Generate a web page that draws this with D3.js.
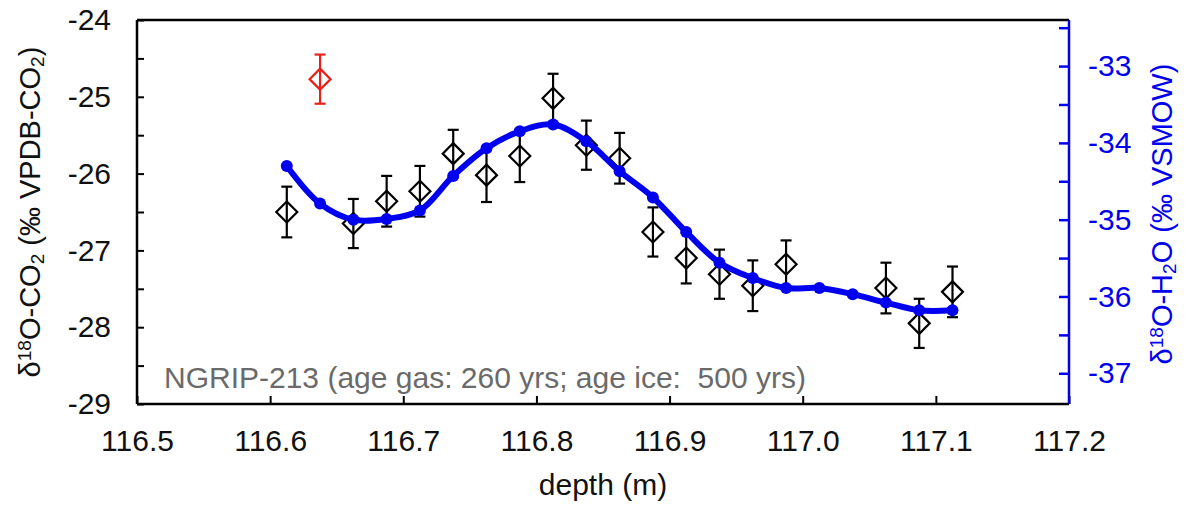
<!DOCTYPE html>
<html>
<head>
<meta charset="utf-8">
<script src="https://cdn.jsdelivr.net/npm/d3@7.9.0/dist/d3.min.js"></script>
<style>
  body { margin: 0; background: #fff; }
  svg { display: block; font-family: Arial, "Liberation Sans", sans-serif; }
</style>
</head>
<body>
<svg id="chart" width="1190" height="506"></svg>
<script>
// d18O of CO2 (black diamonds, left axis)
const co2Depth = [116.6125, 116.6625, 116.6875, 116.7125, 116.7375, 116.7625, 116.7875, 116.8125, 116.8375,
  116.8625, 116.8875, 116.9125, 116.9375, 116.9625, 116.9875, 117.0625, 117.0875, 117.1125];
const co2Value = [-26.50, -26.65, -26.36, -26.23, -25.74, -26.02, -25.77, -25.02, -25.63,
  -25.80, -26.76, -27.10, -27.31, -27.46, -27.18, -27.49, -27.95, -27.54];
const co2Err = [0.33, 0.32, 0.33, 0.33, 0.31, 0.35, 0.34, 0.32, 0.32,
  0.33, 0.32, 0.33, 0.32, 0.33, 0.31, 0.33, 0.32, 0.33];

// outlier (red)
const outlierDepth = [116.6375];
const outlierValue = [-24.77];
const outlierErr = [0.32];

// d18O of H2O (blue, right axis)
const h2oDepth = [116.6125, 116.6375, 116.6625, 116.6875, 116.7125, 116.7375, 116.7625, 116.7875, 116.8125,
  116.8375, 116.8625, 116.8875, 116.9125, 116.9375, 116.9625, 116.9875, 117.0125, 117.0375, 117.0625,
  117.0875, 117.1125];
const h2oValue = [-34.30, -34.79, -35.00, -34.99, -34.88, -34.43, -34.07, -33.85, -33.76,
  -33.98, -34.37, -34.71, -35.16, -35.56, -35.76, -35.89, -35.89, -35.97, -36.08,
  -36.18, -36.18];

const xTicks = [116.5, 116.6, 116.7, 116.8, 116.9, 117.0, 117.1, 117.2];
const leftTicks = [-29, -28.5, -28, -27.5, -27, -26.5, -26, -25.5, -25, -24.5, -24];
const rightTicks = [-37, -36.5, -36, -35.5, -35, -34.5, -34, -33.5, -33, -32.5];

const blue = '#0000f0';
const plotL = 137, plotR = 1069, plotT = 20, plotB = 404;

const svg = d3.select('#chart');

const x = d3.scaleLinear().domain([116.5, 117.2]).range([plotL, plotR]);
const yL = d3.scaleLinear().domain([-29, -24]).range([plotB, plotT]);
const yR = d3.scaleLinear().domain([-37.4, -32.4]).range([plotB, plotT]);

// frame (top line)
svg.append('line')
  .attr('x1', plotL).attr('x2', plotR).attr('y1', plotT).attr('y2', plotT)
  .attr('stroke', '#000').attr('stroke-width', 2.5);

// bottom axis
const gx = svg.append('g')
  .attr('transform', `translate(0,${plotB})`)
  .call(d3.axisBottom(x).tickValues(xTicks).tickFormat(d3.format('.1f'))
    .tickSize(-8).tickPadding(26));

// left axis
const gl = svg.append('g')
  .attr('transform', `translate(${plotL},0)`)
  .call(d3.axisLeft(yL).tickValues(leftTicks)
    .tickFormat(d => Number.isInteger(d) ? d : '')
    .tickSize(-7).tickPadding(26));

// right axis
const gr = svg.append('g')
  .attr('transform', `translate(${plotR},0)`)
  .call(d3.axisRight(yR).tickValues(rightTicks)
    .tickFormat(d => Number.isInteger(d) ? d : '')
    .tickSize(-10).tickPadding(19));

[gx, gl].forEach(g => {
  g.select('.domain').attr('stroke', '#000').attr('stroke-width', 2.5);
  g.selectAll('.tick line').attr('stroke', '#000').attr('stroke-width', 2);
  g.selectAll('.tick text').attr('font-size', 30).attr('font-family', 'Arial, "Liberation Sans", sans-serif').attr('fill', '#111');
});
gr.select('.domain').attr('stroke', blue).attr('stroke-width', 2.5);
gr.selectAll('.tick line').attr('stroke', blue).attr('stroke-width', 2.5);
gr.selectAll('.tick text').attr('font-size', 30).attr('font-family', 'Arial, "Liberation Sans", sans-serif').attr('fill', blue);
// redraw domains without outer ticks
gx.select('.domain').attr('d', `M${plotL},0H${plotR}`);
gl.select('.domain').attr('d', `M0,${plotT}V${plotB}`);
gr.select('.domain').attr('d', `M0,${plotT}V${plotB}`);

// annotation
svg.append('text')
  .attr('x', 164).attr('y', 388)
  .attr('font-size', 30)
  .attr('fill', '#6a6a6a')
  .style('white-space', 'pre')
  .text('NGRIP-213 (age gas: 260 yrs; age ice:  500 yrs)');

// error bars + diamonds
function drawPoints(depths, values, errs, color) {
  const pts = depths.map((d, i) => ({ d, v: values[i], e: errs[i] }));
  const g = svg.append('g').attr('stroke', color).attr('stroke-width', 2.2).attr('fill', 'none');
  const cap = 5.5;
  pts.forEach(p => {
    const cx = x(p.d), y0 = yL(p.v - p.e), y1 = yL(p.v + p.e);
    g.append('line').attr('x1', cx).attr('x2', cx).attr('y1', y0).attr('y2', y1);
    g.append('line').attr('x1', cx - cap).attr('x2', cx + cap).attr('y1', y0).attr('y2', y0);
    g.append('line').attr('x1', cx - cap).attr('x2', cx + cap).attr('y1', y1).attr('y2', y1);
  });
  g.selectAll('path.dia')
    .data(pts)
    .join('path')
    .attr('class', 'dia')
    .attr('d', p => {
      const cx = x(p.d), cy = yL(p.v), r = 10.5;
      return `M${cx},${cy - r}L${cx + r},${cy}L${cx},${cy + r}L${cx - r},${cy}Z`;
    });
}
drawPoints(co2Depth, co2Value, co2Err, '#000');
drawPoints(outlierDepth, outlierValue, outlierErr, '#e8201a');

// blue smooth line
const h2o = h2oDepth.map((d, i) => ({ d, v: h2oValue[i] }));
svg.append('path')
  .datum(h2o)
  .attr('fill', 'none')
  .attr('stroke', blue)
  .attr('stroke-width', 6)
  .attr('d', d3.line().x(p => x(p.d)).y(p => yR(p.v)).curve(d3.curveCatmullRom.alpha(0.5)));
svg.append('g').selectAll('circle')
  .data(h2o)
  .join('circle')
  .attr('cx', p => x(p.d))
  .attr('cy', p => yR(p.v))
  .attr('r', 6)
  .attr('fill', blue);

// axis titles
svg.append('text')
  .attr('x', 603).attr('y', 495)
  .attr('text-anchor', 'middle')
  .attr('font-size', 30)
  .attr('fill', '#111')
  .text('depth (m)');

function isoLabel(xPos, yPos, parts, color) {
  const t = svg.append('text')
    .attr('transform', `translate(${xPos},${yPos}) rotate(-90)`)
    .attr('text-anchor', 'middle')
    .attr('font-size', 29)
    .attr('fill', color);
  parts.forEach(([s, kind]) => {
    const ts = t.append('tspan').text(s);
    if (kind === 'sup') ts.attr('font-size', 19).attr('baseline-shift', '45%');
    if (kind === 'sub') ts.attr('font-size', 19).attr('baseline-shift', '-20%');
  });
}
isoLabel(40, 212, [['δ'], ['18', 'sup'], ['O-CO'], ['2', 'sub'], [' (‰ VPDB-CO'], ['2', 'sub'], [')']], '#111');
isoLabel(1172, 214, [['δ'], ['18', 'sup'], ['O-H'], ['2', 'sub'], ['O (‰ VSMOW)']], blue);
</script>
</body>
</html>
